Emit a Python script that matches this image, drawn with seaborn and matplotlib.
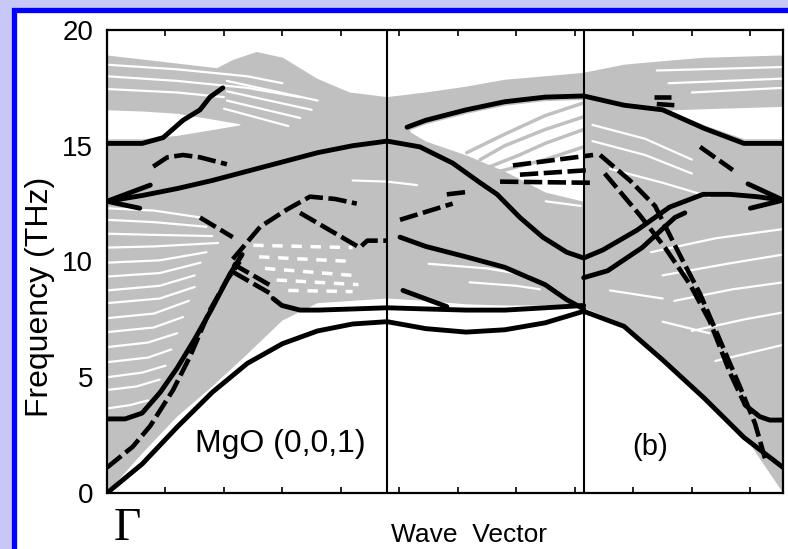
import numpy as np
import pandas as pd
import matplotlib
matplotlib.use("Agg")
import matplotlib.pyplot as plt
import seaborn as sns
from matplotlib.patches import Rectangle
from matplotlib.ticker import MultipleLocator


# wave vector nodes (Gamma ... X ... end), frequency in THz
k_grid = [0, .06, .12, .18, .24, .30, .36, .42, .479, .545, .614, .68, .749, .815,
          .884, .95, 1.021, 1.089, 1.156]
k_x1 = 0.479
k_x2 = 0.815

# grey band envelope (slab modes)
gray_top_k = [0, .103, .188, .215, .256, .301, .359, .415, .479, .545, .614, .68, .749,
              .815, .884, .95, 1.021, 1.089, 1.156]
gray_top = [18.9, 18.6, 18.35, 18.7, 19.05, 18.8, 17.9, 17.3, 17.1, 17.3, 17.55,
            17.85, 18.0, 18.15, 18.5, 18.65, 18.8, 18.85, 18.9]
gray_bot = [0.0, 1.7, 3.3, 4.6, 6.0, 7.45, 8.2, 8.3, 8.4, 8.3, 8.15, 8.1, 8.1, 8.0,
            7.3, 5.85, 4.2, 2.5, 0.0]

# white gaps inside the grey band
gap1_k = [0, .06, .12, .18, .227]
gap1_lo = [15.3, 15.3, 15.45, 15.7, 15.9]
gap1_hi = [16.55, 16.5, 16.4, 16.15, 15.95]
gap2_k = [.518, .545, .614, .68, .749, .815]
gap2_lo = [15.6, 15.2, 14.6, 13.9, 13.0, 12.6]
gap2_hi = [15.7, 15.95, 16.4, 16.75, 16.95, 17.0]
gap3_k = [.965, 1.021, 1.089, 1.156]
gap3_lo = [16.5, 15.9, 15.3, 15.3]
gap3_hi = [16.55, 16.6, 16.65, 16.7]

white_stripes = [
    ([0, .12, .24, .30], [18.5, 18.3, 18.0, 17.7]),
    ([0, .12, .24, .33], [18.0, 17.8, 17.5, 17.1]),
    ([0, .12, .20], [17.45, 17.3, 17.1]),
    ([.205, .36], [17.8, 16.95]),
    ([.205, .35], [17.35, 16.55]),
    ([.205, .33], [16.95, 16.2]),
    ([.20, .31], [16.6, 15.85]),
    ([0, .08, .16], [12.3, 12.2, 11.9]),
    ([0, .08, .17], [11.8, 11.7, 11.5]),
    ([0, .08, .18], [11.2, 11.15, 11.1]),
    ([0, .08, .19], [10.6, 10.65, 10.8]),
    ([0, .09, .17], [9.95, 10.05, 10.4]),
    ([0, .09, .16], [9.35, 9.5, 9.95]),
    ([0, .09, .15], [8.75, 8.95, 9.4]),
    ([0, .09, .15], [8.2, 8.4, 8.9]),
    ([0, .08, .14], [7.55, 7.75, 8.3]),
    ([0, .08, .13], [6.95, 7.15, 7.6]),
    ([0, .07, .12], [6.3, 6.5, 6.9]),
    ([0, .07, .11], [5.65, 5.85, 6.2]),
    ([0, .06, .10], [5.0, 5.2, 5.5]),
    ([0, .05, .09], [4.45, 4.6, 4.9]),
    ([0, .04, .07], [3.65, 3.8, 4.0]),
    ([.42, .479, .53], [13.5, 13.45, 13.3]),
    ([.55, .65, .72], [9.9, 9.7, 9.4]),
    ([.62, .70, .74], [9.1, 8.95, 8.8]),
    ([.75, .81], [12.6, 12.4]),
    ([.93, 1.04, 1.156], [10.4, 11.0, 11.4]),
    ([.95, 1.06, 1.156], [9.4, 9.9, 10.3]),
    ([.97, 1.07, 1.156], [8.3, 8.8, 9.1]),
    ([1.0, 1.09, 1.156], [7.0, 7.5, 7.8]),
    ([1.04, 1.156], [5.7, 6.4]),
    ([.86, .95], [8.75, 8.4]),
    ([.95, 1.03], [7.4, 6.9]),
    ([.83, .92, 1.0], [15.9, 15.3, 14.4]),
    ([.83, .92, 1.0], [15.2, 14.6, 13.8]),
    ([.86, .95, 1.03], [14.0, 13.4, 12.8]),
    ([.94, 1.156], [18.25, 18.4]),
    ([.96, 1.156], [17.7, 17.9]),
    ([1.0, 1.156], [17.3, 17.5]),
]
white_dashes = [
    ([.25, .42], [10.7, 10.6]),
    ([.26, .42], [10.2, 10.0]),
    ([.27, .42], [9.7, 9.4]),
    ([.29, .43], [9.2, 9.0]),
    ([.31, .42], [8.75, 8.7]),
]
gray_arcs = [
    ([.615, .68, .749, .815], [14.7, 15.5, 16.3, 16.85]),
    ([.638, .68, .749, .815], [14.4, 15.0, 15.7, 16.25]),
    ([.655, .705, .749, .815], [14.1, 14.6, 15.1, 15.7]),
    ([.672, .749, .815], [13.9, 14.4, 14.95]),
]

# black (MgO-like) modes, solid
ta_f = [0.0, 1.25, 2.85, 4.35, 5.6, 6.45, 7.0, 7.3, 7.4, 7.1, 6.95, 7.05, 7.35, 7.85,
        7.2, 5.75, 4.1, 2.4, 1.1]
big_k = [0, .06, .12, .18, .24, .30, .36, .42, .479, .535, .591, .638, .667, .706,
         .745, .786, .815, .848, .906, .962, 1.019, 1.065, 1.111, 1.156]
big_f = [12.6, 12.85, 13.15, 13.5, 13.9, 14.3, 14.7, 15.0, 15.2, 14.95, 14.25, 13.4,
         12.9, 11.9, 11.05, 10.4, 10.15, 10.5, 11.35, 12.35, 12.9, 12.9, 12.8, 12.65]
eight_k = [.284, .299, .33, .361, .421, .479, .545, .614, .68, .749, .815]
eight_f = [8.4, 8.1, 7.9, 7.9, 7.95, 8.0, 7.95, 7.9, 7.9, 8.0, 8.1]
top_k = [.513, .545, .614, .68, .749, .815, .884, .95, 1.021, 1.089, 1.156]
top_f = [15.8, 16.1, 16.55, 16.9, 17.1, 17.15, 16.75, 16.55, 15.75, 15.1, 15.1]
g15_k = [0, .06, .096, .13, .159, .176, .198]
g15_f = [15.1, 15.1, 15.35, 16.1, 16.55, 17.1, 17.5]
g3_k = [0, .031, .06, .091, .12, .15, .179, .21, .231]
g3_f = [3.2, 3.2, 3.45, 4.35, 5.4, 6.65, 7.95, 9.45, 10.3]
c2_k = [.501, .545, .614, .68, .749, .786, .815]
c2_f = [11.05, 10.65, 10.2, 9.75, 9.0, 8.35, 7.95]
rise_k = [.815, .856, .915, .971, .988]
rise_f = [9.3, 9.6, 10.6, 11.9, 12.1]
end3_k = [1.091, 1.116, 1.133, 1.156]
end3_f = [3.8, 3.3, 3.15, 3.15]
barbs = [
    ([1.096, 1.156], [13.35, 12.65]),
    ([1.1, 1.156], [12.3, 12.65]),
    ([0, .074], [12.6, 13.3]),
    ([0, .056], [12.6, 12.3]),
    ([.506, .581], [8.75, 8.05]),
]

# black modes, broken
dashed = [
    ([0, .044, .074, .113, .142, .176, .205, .227], [1.1, 2.0, 2.9, 4.45, 5.9, 7.9, 9.2, 10.0]),
    ([.215, .262, .308, .347, .39, .427], [10.1, 11.5, 12.25, 12.8, 12.7, 12.5]),
    ([.33, .432, .445, .479], [12.1, 10.6, 10.9, 10.9]),
    ([.079, .103, .13, .159, .205], [14.1, 14.5, 14.6, 14.5, 14.2]),
    ([.159, .215], [11.9, 11.05]),
    ([.215, .284], [9.9, 8.9]),
    ([.215, .284], [9.55, 8.55]),
    ([.694, .831], [14.15, 14.6]),
    ([.706, .826], [13.75, 13.95]),
    ([.672, .826], [13.45, 13.4]),
    ([.501, .591], [11.8, 12.5]),
    ([.581, .615], [12.9, 13.0]),
    ([.843, .894, .937, .979, 1.014, 1.048, 1.082, 1.108, 1.125],
     [14.6, 13.5, 12.4, 10.3, 8.6, 6.6, 4.6, 3.0, 1.5]),
    ([.851, .911, .954, .997, 1.031, 1.065, 1.091], [13.8, 12.0, 10.6, 9.0, 7.4, 5.2, 3.8]),
    ([.935, .965], [17.1, 17.1]),
    ([.94, .97], [16.8, 16.75]),
    ([1.014, 1.07], [14.95, 13.95]),
]

sns.set_theme(style="ticks")
plt.rcParams["font.family"] = ["Liberation Sans", "DejaVu Sans"]
plt.rcParams["text.color"] = "black"
plt.rcParams["ytick.color"] = "black"
plt.rcParams["xtick.color"] = "black"

fig = plt.figure(figsize=(7.88, 5.49), dpi=100)
fig.patch.set_facecolor("#c8c8f8")
frame = Rectangle((0.0178, -0.05), 1.1, 1.0318, transform=fig.transFigure,
                  facecolor="white", edgecolor="#0000ff", lw=3.8, zorder=-10)
fig.add_artist(frame)
ax = fig.add_axes([0.1358, 0.102, 0.858, 0.8434])
ax.set_zorder(5)
ax.set_facecolor("white")

gray = "#c0c0c0"
ax.fill(list(gray_top_k) + k_grid[::-1], list(gray_top) + gray_bot[::-1],
        color=gray, lw=0, zorder=1)
for gk, glo, ghi in [(gap1_k, gap1_lo, gap1_hi), (gap2_k, gap2_lo, gap2_hi),
                     (gap3_k, gap3_lo, gap3_hi)]:
    ax.fill_between(gk, glo, ghi, color="white", lw=0, zorder=2)

for sk, sf in white_stripes:
    sns.lineplot(x=sk, y=sf, ax=ax, color="white", lw=1.6, sort=False, estimator=None, zorder=3)
for sk, sf in white_dashes:
    sns.lineplot(x=sk, y=sf, ax=ax, color="white", lw=2.5, sort=False, estimator=None,
                 linestyle=(0, (3, 2.5)), zorder=3)
for sk, sf in gray_arcs:
    sns.lineplot(x=sk, y=sf, ax=ax, color=gray, lw=2.5, sort=False, estimator=None, zorder=3)

ax.axvline(k_x1, color="black", lw=1.5, zorder=4)
ax.axvline(k_x2, color="black", lw=1.5, zorder=4)

solid = [(k_grid, ta_f), (big_k, big_f), (eight_k, eight_f), (top_k, top_f),
         (g15_k, g15_f), (g3_k, g3_f), (c2_k, c2_f), (rise_k, rise_f), (end3_k, end3_f)]
for sk, sf in solid:
    sns.lineplot(x=sk, y=sf, ax=ax, color="black", lw=3.5, sort=False, estimator=None,
                 solid_capstyle="round", solid_joinstyle="round", zorder=5)
for sk, sf in barbs:
    sns.lineplot(x=sk, y=sf, ax=ax, color="black", lw=3.5, sort=False, estimator=None, zorder=5)
for sk, sf in dashed:
    sns.lineplot(x=sk, y=sf, ax=ax, color="black", lw=3.3, sort=False, estimator=None,
                 linestyle=(0, (4, 1.2)), zorder=5)

ax.set_xlim(0, 1.156)
ax.set_ylim(0, 20)
ax.set_xticks(np.arange(0, 1.16, 0.1))
ax.set_xticklabels([])
ax.yaxis.set_major_locator(MultipleLocator(5))
ax.yaxis.set_minor_locator(MultipleLocator(2.5))
ax.tick_params(axis="both", which="both", direction="in", top=True, right=True,
               color="black", width=1.2)
ax.tick_params(axis="y", which="major", length=8, labelsize=20, pad=10)
ax.tick_params(axis="y", which="minor", length=5)
ax.tick_params(axis="x", which="major", length=4)
for sp in ax.spines.values():
    sp.set_linewidth(1.6)
    sp.set_color("black")
    sp.set_zorder(6)
ax.set_xlabel("")
ax.set_ylabel("")

ax.text(0.296, 2.1, "MgO (0,0,1)", fontsize=23, ha="center", va="center", zorder=7)
ax.text(0.928, 2.0, "(b)", fontsize=21, ha="center", va="center", zorder=7)

fig.text(40 / 788, 1 - 297 / 549, "Frequency (THz)", rotation=90, fontsize=23,
         ha="center", va="center")
fig.text(469 / 788, 1 - 542 / 549, "Wave  Vector", fontsize=19, ha="center", va="baseline")
fig.text(127 / 788, 1 - 507 / 549, "Γ", fontsize=34, ha="center", va="top",
         family=["Liberation Serif", "DejaVu Serif"])

fig.savefig("out.png", dpi=100, facecolor=fig.get_facecolor())
